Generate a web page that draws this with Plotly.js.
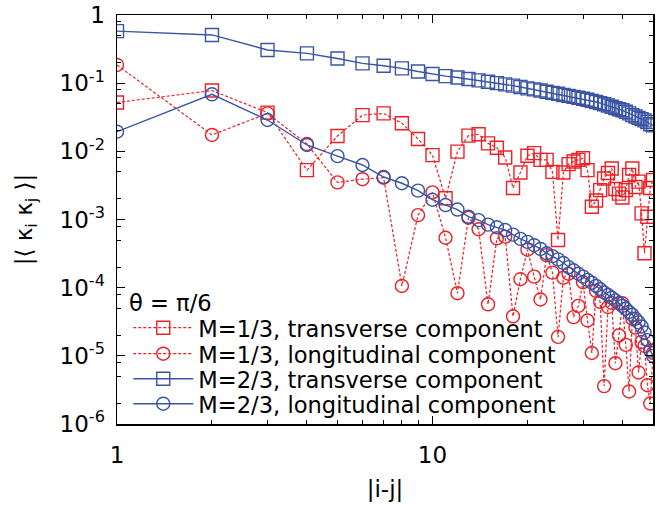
<!DOCTYPE html>
<html>
<head>
<meta charset="utf-8">
<script src="https://cdn.plot.ly/plotly-3.0.1.min.js"></script>
<style>
  html, body { margin: 0; padding: 0; background: #ffffff; }
  #chart { width: 656px; height: 508px; }
</style>
</head>
<body>
<div id="chart"></div>
<script>
// |i-j| distances
const distance = [1,2,3,4,5,6,7,8,9,10,11,12,13,14,15,16,17,18,19,20,
  21,22,23,24,25,26,27,28,29,30,31,32,33,34,35,36,37,38,39,40,
  41,42,43,44,45,46,47,48,49,50];

// M=1/3, transverse component
const m13Transverse = [0.052,0.078,0.037,0.0053,0.0168,0.034,0.036,0.0258,0.0152,0.0088,
  0.00205,0.0099,0.017,0.0178,0.0131,0.0113,0.0081,0.0029,0.0049,0.0086,
  0.0094,0.0075,0.0075,0.0050,0.0005,0.0049,0.0065,0.0071,0.0075,0.0079,
  0.0053,0.00154,0.0019,0.0027,0.0040,0.0048,0.0056,0.0028,0.0024,0.0021,
  0.0027,0.0045,0.0056,0.0030,0.0036,0.00123,0.00032,0.0011,0.0029,0.0038];

// M=1/3, longitudinal component
const m13Longitudinal = [0.185,0.0174,0.036,0.0128,0.0035,0.0039,0.0041,0.000106,0.00116,0.0025,
  0.00054,0.000083,0.00106,0.00072,0.000057,0.00053,0.00056,0.000038,0.000133,0.00036,
  0.000145,0.000067,0.0003,0.000166,0.000019,0.00014,0.00016,0.000037,0.000054,0.00012,
  0.000033,0.000011,0.00009,0.000062,0.0000036,0.000052,0.00006,0.0000078,0.00002,0.000059,
  0.0000145,0.000003,0.000035,0.000026,0.0000057,0.000016,0.000014,0.0000037,0.000002,0.000011];

// M=2/3, transverse component
const m23Transverse = [0.58,0.51,0.307,0.274,0.23,0.195,0.18,0.165,0.148,0.136,
  0.127,0.121,0.115,0.110,0.105,0.100,0.096,0.092,0.088,0.084,
  0.081,0.078,0.075,0.072,0.070,0.067,0.065,0.063,0.061,0.059,
  0.057,0.055,0.053,0.051,0.049,0.047,0.045,0.043,0.0415,0.040,
  0.038,0.036,0.034,0.0325,0.031,0.0297,0.0285,0.027,0.025,0.024];

// M=2/3, longitudinal component
const m23Longitudinal = [0.0194,0.0686,0.0288,0.0124,0.0085,0.0063,0.0042,0.0034,0.00265,0.00195,
  0.00163,0.0014,0.0011,0.00098,0.00084,0.00077,0.0007,0.0006,0.00052,0.00047,
  0.00042,0.00037,0.00032,0.00029,0.00026,0.00023,0.0002,0.00018,0.00016,0.000145,
  0.00013,0.000118,0.000106,0.000095,0.000085,0.000078,0.000071,0.000065,0.000059,0.000054,
  0.000049,0.000044,0.00004,0.000035,0.000031,0.000027,0.000022,0.000017,0.000012,0.00001];

const seriesNames = [
  'M=1/3, transverse component',
  'M=1/3, longitudinal component',
  'M=2/3, transverse component',
  'M=2/3, longitudinal component'
];
const legendTitle = '\u03b8 = \u03c0/6';

const yTickVals = [1e-6,1e-5,1e-4,1e-3,1e-2,1e-1,1];
const yTickText = ['10<sup>-6</sup>','10<sup>-5</sup>','10<sup>-4</sup>','10<sup>-3</sup>','10<sup>-2</sup>','10<sup>-1</sup>','1'];
const yMinorVals = [2e-6,5e-6,8e-6,2e-5,5e-5,8e-5,2e-4,5e-4,8e-4,2e-3,5e-3,8e-3,2e-2,5e-2,8e-2,0.2,0.5,0.8];
const xTickVals = [1,10];
const xTickText = ['1','10'];
const xMinorVals = [2,3,4,5,6,7,8,9,20,30,40];

const RED = '#ec2027';
const BLUE = '#3a54a4';
const FONT = 'DejaVu Sans, sans-serif';
const MS = 13;
const LEGEND_FONT = {family: FONT, size: 22.6, color: '#000'};

function trace(y, name, color, symbol, dash, legendId) {
  return {
    x: distance, y: y, name: name, type: 'scatter', mode: 'lines+markers',
    legend: legendId,
    line: {color: color, width: dash ? 1.2 : 1.4, dash: dash || 'solid'},
    marker: {symbol: symbol, size: MS, color: color, line: {color: color, width: 1.4}}
  };
}

const data = [
  trace(m13Transverse, seriesNames[0], RED, 'square-open', '3px,2px', 'legend'),
  trace(m13Longitudinal, seriesNames[1], RED, 'circle-open', '3px,2px', 'legend2'),
  trace(m23Transverse, seriesNames[2], BLUE, 'square-open', null, 'legend3'),
  trace(m23Longitudinal, seriesNames[3], BLUE, 'circle-open', null, 'legend4')
];

function legendAt(yPaper) {
  return {
    x: 0.021, y: yPaper, xanchor: 'left', yanchor: 'middle',
    bgcolor: 'rgba(0,0,0,0)', borderwidth: 0,
    font: LEGEND_FONT, itemwidth: 60
  };
}

const axisCommon = {
  type: 'log', showgrid: false, zeroline: false,
  showline: true, linecolor: '#000', linewidth: 1.5, mirror: 'allticks',
  ticks: 'inside', ticklen: 8, tickwidth: 1.2, tickcolor: '#000',
  tickmode: 'array',
  tickfont: {family: FONT, size: 23, color: '#000'}
};

const layout = {
  width: 656, height: 508,
  margin: {l: 117, r: 3, t: 15, b: 84},
  paper_bgcolor: '#fff', plot_bgcolor: '#fff',
  font: {family: FONT, size: 23, color: '#000'},
  showlegend: true,
  legend: legendAt(0.2347),
  legend2: legendAt(0.1711),
  legend3: legendAt(0.1100),
  legend4: legendAt(0.0489),
  annotations: [{
    text: legendTitle, xref: 'paper', yref: 'paper', x: 0.019, y: 0.296,
    xanchor: 'left', yanchor: 'middle', showarrow: false, font: LEGEND_FONT
  }],
  xaxis: Object.assign({}, axisCommon, {
    range: [0, Math.log10(50)],
    tickvals: xTickVals, ticktext: xTickText,
    ticklabelstandoff: 10,
    minor: {tickvals: xMinorVals, ticks: 'inside', ticklen: 4, tickwidth: 1, tickcolor: '#000'},
    title: {text: '|i-j|', font: {family: FONT, size: 23, color: '#000'}, standoff: 14}
  }),
  yaxis: Object.assign({}, axisCommon, {
    range: [-6, 0],
    tickvals: yTickVals, ticktext: yTickText,
    ticklabelstandoff: 6,
    minor: {tickvals: yMinorVals, ticks: 'inside', ticklen: 4, tickwidth: 1, tickcolor: '#000'},
    title: {text: '|\u27e8 \u03ba<sub>i</sub> \u03ba<sub>j</sub> \u27e9|', font: {family: FONT, size: 23, color: '#000'}, standoff: 20}
  })
};

Plotly.newPlot('chart', data, layout, {staticPlot: true, displayModeBar: false});
</script>
</body>
</html>
